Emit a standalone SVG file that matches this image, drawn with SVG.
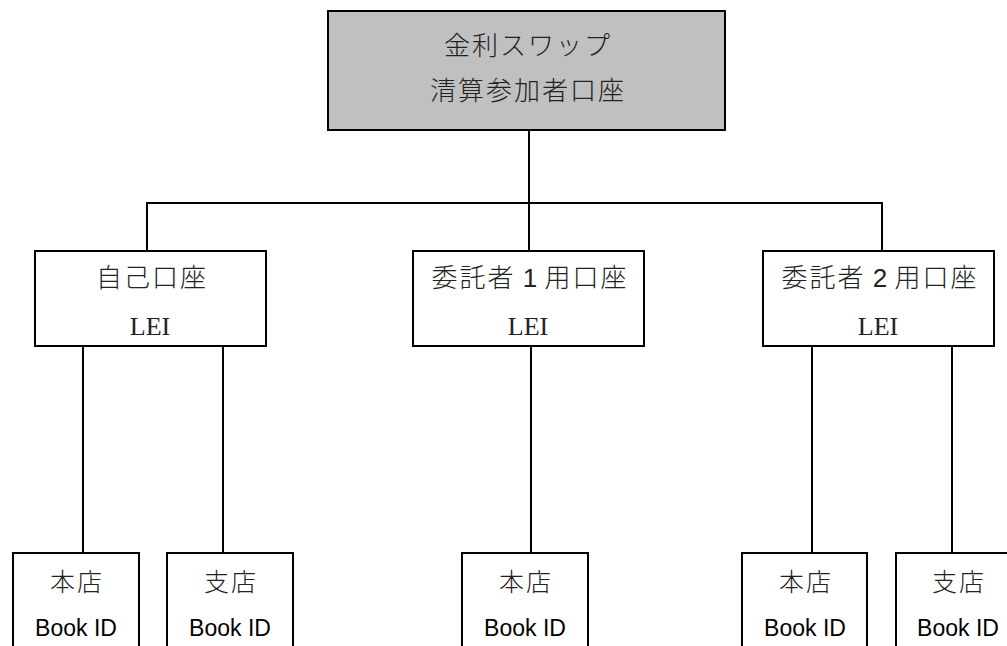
<svg xmlns="http://www.w3.org/2000/svg" width="1007" height="646" viewBox="0 0 1007 646">
<style>
.box{fill:#ffffff;stroke:#000000;stroke-width:2}
.top{fill:#c0c0c0;stroke:#000000;stroke-width:2}
.conn{fill:none;stroke:#000000;stroke-width:2}
.jp{font-family:"Liberation Serif","Noto Sans CJK JP",serif;font-size:26px;font-weight:300;letter-spacing:2px;fill:#222;text-anchor:middle}
.num{font-family:"Liberation Sans",Arial,sans-serif;font-weight:400;letter-spacing:0}
.lei{font-family:"Liberation Serif",serif;font-size:26px;fill:#222;text-anchor:middle}
.bk{font-family:"Liberation Sans",Arial,sans-serif;font-size:23px;fill:#000;text-anchor:middle}
.jps{font-family:"Liberation Serif","Noto Sans CJK JP",serif;font-size:25px;font-weight:300;letter-spacing:2px;fill:#222;text-anchor:middle}
</style>
<rect width="1007" height="646" fill="#ffffff"/>
<g id="connectors">
<path class="conn" d="M529 130 V203 M147 251 V203 H882 V251 M529 203 V251"/>
<path class="conn" d="M83 346 V553 M223 346 V553 M531 346 V553 M812 346 V553 M952 346 V553"/>
</g>
<g id="root">
<rect class="top" x="328" y="11" width="397" height="119"/>
<text class="jp" x="528" y="55">金利スワップ</text>
<text class="jp" x="528" y="100">清算参加者口座</text>
</g>
<g id="own">
<rect class="box" x="35" y="251" width="231" height="95"/>
<text class="jp" x="152" y="287">自己口座</text>
<text class="lei" x="150" y="335">LEI</text>
</g>
<g id="client1">
<rect class="box" x="413" y="251" width="231" height="95"/>
<text class="jp" x="530" y="287">委託者<tspan class="num"> 1 </tspan>用口座</text>
<text class="lei" x="528" y="335">LEI</text>
</g>
<g id="client2">
<rect class="box" x="763" y="251" width="231" height="95"/>
<text class="jp" x="880" y="287">委託者<tspan class="num"> 2 </tspan>用口座</text>
<text class="lei" x="878" y="335">LEI</text>
</g>
<g id="own-head">
<rect class="box" x="13" y="553" width="126" height="110"/>
<text class="jps" x="77" y="591">本店</text>
<text class="bk" x="76" y="636">Book ID</text>
</g>
<g id="own-branch">
<rect class="box" x="167" y="553" width="126" height="110"/>
<text class="jps" x="231" y="591">支店</text>
<text class="bk" x="230" y="636">Book ID</text>
</g>
<g id="client1-head">
<rect class="box" x="462" y="553" width="126" height="110"/>
<text class="jps" x="526" y="591">本店</text>
<text class="bk" x="525" y="636">Book ID</text>
</g>
<g id="client2-head">
<rect class="box" x="742" y="553" width="125" height="110"/>
<text class="jps" x="806" y="591">本店</text>
<text class="bk" x="805" y="636">Book ID</text>
</g>
<g id="client2-branch">
<rect class="box" x="896" y="553" width="126" height="110"/>
<text class="jps" x="959" y="591">支店</text>
<text class="bk" x="958" y="636">Book ID</text>
</g>
</svg>
